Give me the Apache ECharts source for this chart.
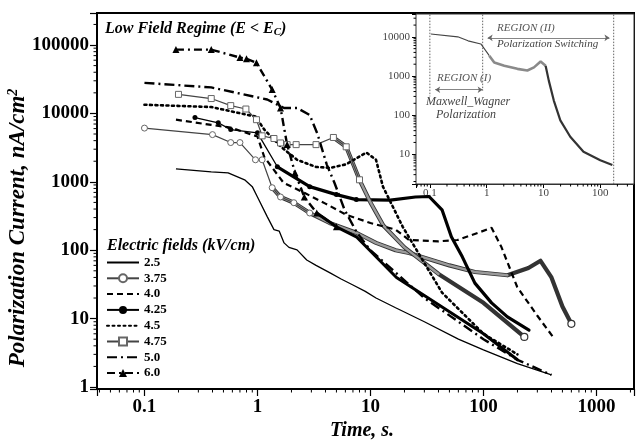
<!DOCTYPE html>
<html><head><meta charset="utf-8">
<script src="https://cdn.jsdelivr.net/npm/echarts@6/dist/echarts.min.js"></script>
<style>html,body{margin:0;padding:0;background:#fff}#c{width:637px;height:445px}</style>
</head><body><div id="c"></div>
<script>
// ---- data (time in s, current in nA/cm^2) ----
const fieldNames = ['2.5','3.75','4.0','4.25','4.5','4.75','5.0','6.0'];

const t25 = [0.19,0.39,0.55,0.77,0.9,1.0,1.22,1.4,1.56,1.72,1.9,2.24,2.73,3.3,4.35,5.5,7.0,9,11.2,16.7,30,60,100,200,400];
const v25 = [1550,1400,1350,1070,850,600,310,200,190,128,110,101,72,60,47,38,31,25,20,14.4,9,5,3.5,2.2,1.5];

const t375 = [0.1,0.4,0.58,0.7,0.96,1.1,1.35,1.6,2.1,2.9,4.35,7.5,11.2,16.7,22,50,84,163,250,320,400,500,600];
const v375 = [6100,4900,3750,3750,2100,2100,820,600,495,350,250,180,128,100,91,60,48,43,55,70,40,15,8.4];

const t40 = [0.19,0.39,0.58,1.0,1.15,1.7,2.6,4,6.1,10,16.7,22,40,59,90,118,144,199,300,420];
const v40 = [8100,6800,6200,4600,2300,970,690,480,330,250,200,141,135,141,180,213,112,29,11,5.2];

const t425 = [0.28,0.45,0.58,1.0,1.5,2.9,5,7.5,15,25,33,43,52,65,84,118,163,253];
const v425 = [8700,7300,5800,5200,1660,850,650,550,540,600,610,390,157,80,33,17,10.6,6.8];

const t45 = [0.1,0.39,0.96,1.15,1.6,2.24,3.3,4.4,6.1,9.2,11.2,12.9,19.3,43,100,200];
const v45 = [13400,12400,9000,5800,3300,2100,1650,1600,1800,2680,2100,850,220,24,6,3];

const t475 = [0.2,0.39,0.58,0.79,0.98,1.1,1.4,1.6,1.83,2.2,3.3,4.7,6.1,8,10,13,20,40,100,230];
const v475 = [19000,16500,13000,11600,8100,4700,4300,3700,3500,3500,3500,4450,3250,1070,500,230,110,45,17,5.4];

const t50 = [0.1,0.39,1.22,1.72,2.24,2.9,3.4,4.1,4.8,5.9,7.6,10,30,100,200,400];
const v50 = [28000,24000,16000,12000,12000,9500,5000,1800,970,390,180,100,20,5,2.5,1.5];

const t60 = [0.19,0.39,0.7,0.8,0.98,1.35,1.6,1.83,2.15,2.6,3.35,5,7.5,17,100,200];
const v60 = [85700,85700,65500,63000,55000,22300,12000,3500,1360,600,350,220,157,40,6,2.5];

// inset curve
const tIn = [0.104,0.31,0.47,0.79,1.11,1.36,2.04,3.47,5.2,6.8,8.9,10.9,12.4,15.2,19.8,29.6,50.6,100,163];
const vIn = [11800,10000,7900,6600,3300,2200,1830,1520,1380,1660,2350,1830,760,235,73,28,11.5,7,5.3];

// inset region markers
const regionBounds = [0.1, 0.85, 172];

const zip = (a,b)=>a.map((x,i)=>[x,b[i]]);
const from = (a,b,i)=>zip(a,b).slice(i);
const last = (a,b)=>[[a[a.length-1], b[b.length-1]]];

const SERIF = 'Liberation Serif';
const MX=[10**-1.42, 2150], MY=[0.935, 294000];
const IX=[0.057, 392], IY=[1.73, 38400];

function decLabel(v){
  const l=Math.log10(v); const r=Math.round(l);
  if(Math.abs(l-r)>1e-6) return '';
  return r<0 ? String(Math.pow(10,r).toFixed(-r)) : String(Math.pow(10,r));
}
function minorVals(lo,hi){
  const out=[];
  for(let d=-3; d<=6; d++) for(let k=2;k<=9;k++){const v=k*Math.pow(10,d); if(v>lo*1.0001 && v<hi*0.9999) out.push(v);}
  return out;
}
function tickSeries(xi, yi, axis, vals, fixed, len){
  return {type:'custom', xAxisIndex:xi, yAxisIndex:yi, silent:true, clip:false, z:5,
    data: vals.map(v=> axis==='x'?[v,fixed]:[fixed,v]),
    renderItem:(p,api)=>{
      const c=api.coord([api.value(0),api.value(1)]);
      return axis==='x'
        ? {type:'line',shape:{x1:c[0],y1:c[1],x2:c[0],y2:c[1]+len},style:{stroke:'#000',lineWidth:1}}
        : {type:'line',shape:{x1:c[0],y1:c[1],x2:c[0]-len,y2:c[1]},style:{stroke:'#000',lineWidth:1}};
    }};
}

const chart = echarts.init(document.getElementById('c'), null, {renderer:'canvas'});

const base = {type:'line', xAxisIndex:0, yAxisIndex:0, smooth:false, z:3};
const band = (data, color, width, type) => ({...base, z:2, data, symbol:'none', silent:true,
  lineStyle:{color, width, type:type||'solid', join:'round', cap:'round'}});
const endMark = (data) => ({...base, z:4, data, symbol:'circle', symbolSize:7, silent:true, showSymbol:true,
  lineStyle:{width:0}, itemStyle:{color:'#fff', borderColor:'#333', borderWidth:1.2}});
const series = [
  {...base, name:'2.5', data:zip(t25,v25), symbol:'none', lineStyle:{color:'#000',width:1.3}, itemStyle:{color:'#000'}},
  // dense-marker tails drawn as thick bands
  band(from(t375,v375,6), '#333', 4.2),
  band(from(t375,v375,6).slice(0,12), '#9a9a9a', 2.4),
  band(from(t425,v425,4), '#000', 3.2),
  band(from(t475,v475,11), '#333', 4.2),
  band(from(t475,v475,11).slice(0,7), '#9a9a9a', 2.4),
  band(from(t60,v60,10), '#000', 3),
  endMark(last(t375,v375)),
  endMark(last(t475,v475)),
  {...base, name:'3.75', data:zip(t375,v375).slice(0,10), symbol:'circle', symbolSize:6, lineStyle:{color:'#444',width:1.2}, itemStyle:{color:'#fff',borderColor:'#666',borderWidth:1}},
  {...base, name:'4.0', data:zip(t40,v40), symbol:'none', lineStyle:{color:'#000',width:2.2,type:[6,4]}, itemStyle:{color:'#000'}},
  {...base, name:'4.25', data:zip(t425,v425).slice(0,8), symbol:'circle', symbolSize:5, lineStyle:{color:'#000',width:1.3}, itemStyle:{color:'#000'}},
  {...base, name:'4.5', data:zip(t45,v45), symbol:'none', lineStyle:{color:'#000',width:2.6,type:[2,3.5],cap:'round'}, itemStyle:{color:'#000'}},
  {...base, name:'4.75', data:zip(t475,v475).slice(0,14), symbol:'rect', symbolSize:6, lineStyle:{color:'#444',width:1.2}, itemStyle:{color:'#fff',borderColor:'#666',borderWidth:1}},
  {...base, name:'5.0', data:zip(t50,v50), symbol:'none', lineStyle:{color:'#000',width:2.4,type:[10,4,2,4]}, itemStyle:{color:'#000'}},
  {...base, name:'6.0', data:zip(t60,v60).slice(0,12), symbol:'triangle', symbolSize:7, lineStyle:{color:'#000',width:2.4,type:[8,4,2,4]}, itemStyle:{color:'#000'}},
  // inset curve
  {type:'line', xAxisIndex:1, yAxisIndex:1, data:zip(tIn,vIn).slice(0,5), symbol:'none', z:12, silent:true,
   lineStyle:{color:'#444',width:1.1}},
  {type:'line', xAxisIndex:1, yAxisIndex:1, data:zip(tIn,vIn).slice(4,12), symbol:'none', z:12, silent:true,
   lineStyle:{color:'#8a8a8a',width:2.6}},
  {type:'line', xAxisIndex:1, yAxisIndex:1, name:'inset', data:zip(tIn,vIn).slice(11), symbol:'none', z:12,
   lineStyle:{color:'#333',width:2.2}, silent:true,
   markLine:{silent:true, symbol:['arrow','arrow'], symbolSize:5, label:{show:false},
     lineStyle:{color:'#666',width:0.8,type:'solid'},
     data:[[{coord:[0.124,445]},{coord:[0.85,445]}],[{coord:[1.04,9450]},{coord:[145,9450]}]]}},
  // region boundaries
  {type:'line', xAxisIndex:1, yAxisIndex:1, data:[[regionBounds[0],37000],[regionBounds[0],300]], symbol:'none', z:11, silent:true, lineStyle:{color:'#555',width:0.9,type:[1.5,1.5]}},
  {type:'line', xAxisIndex:1, yAxisIndex:1, data:[[regionBounds[1],37000],[regionBounds[1],420]], symbol:'none', z:11, silent:true, lineStyle:{color:'#555',width:0.9,type:[1.5,1.5]}},
  {type:'line', xAxisIndex:1, yAxisIndex:1, data:[[regionBounds[2],37000],[regionBounds[2],1.75]], symbol:'none', z:11, silent:true, lineStyle:{color:'#555',width:0.9,type:[1.5,1.5]}},
  tickSeries(0,0,'x',minorVals(MX[0],MX[1]),MY[0],3.5),
  tickSeries(0,0,'y',minorVals(MY[0],MY[1]),MX[0],3.5),
  tickSeries(1,1,'x',minorVals(IX[0],IX[1]),IY[0],2.5),
  tickSeries(1,1,'y',minorVals(IY[0],IY[1]),IX[0],2.5),
];

const axisCommon = {type:'log', logBase:10, splitLine:{show:false}, minorTick:{show:false}};
const noSym = ['2.5','4.0','4.5','5.0'];

chart.setOption({
  animation:false,
  backgroundColor:'#fff',
  grid:[
    {left:97, top:13, width:543, height:376, show:true, borderColor:'#000', borderWidth:2, backgroundColor:'transparent'},
    {left:416, top:14, width:220, height:170, show:true, borderColor:'#333', borderWidth:1, backgroundColor:'#fff', z:1}
  ],
  xAxis:[
    {...axisCommon, gridIndex:0, min:MX[0], max:MX[1],
     axisLine:{lineStyle:{color:'#000',width:2}}, axisTick:{inside:false,length:7,lineStyle:{color:'#000',width:1.2}},
     axisLabel:{formatter:decLabel, margin:9, color:'#000', fontFamily:SERIF, fontWeight:'bold', fontSize:19}},
    {...axisCommon, gridIndex:1, min:IX[0], max:IX[1],
     axisLine:{lineStyle:{color:'#333',width:1}}, axisTick:{inside:false,length:4,lineStyle:{color:'#000',width:1}},
     axisLabel:{formatter:decLabel, margin:4, color:'#444', fontFamily:SERIF, fontSize:11}}
  ],
  yAxis:[
    {...axisCommon, gridIndex:0, min:MY[0], max:MY[1],
     axisLine:{lineStyle:{color:'#000',width:2}}, axisTick:{inside:false,length:7,lineStyle:{color:'#000',width:1.2}},
     axisLabel:{formatter:decLabel, margin:8, color:'#000', fontFamily:SERIF, fontWeight:'bold', fontSize:19}},
    {...axisCommon, gridIndex:1, min:IY[0], max:IY[1],
     axisLine:{lineStyle:{color:'#333',width:1}}, axisTick:{inside:false,length:4,lineStyle:{color:'#000',width:1}},
     axisLabel:{formatter:decLabel, margin:6, color:'#444', fontFamily:SERIF, fontSize:11}}
  ],
  legend:{
    data:fieldNames.map(n=> noSym.includes(n) ? {name:n, itemStyle:{opacity:0}} : {name:n}),
    orient:'vertical', left:106, top:256, itemWidth:32, itemHeight:10, itemGap:2.8,
    padding:0, selectedMode:false,
    textStyle:{fontFamily:SERIF, fontWeight:'bold', fontSize:13, color:'#000'}
  },
  graphic:[
    {type:'text', left:105, top:21, style:{rich:{b:{fontFamily:SERIF,fontStyle:'italic',fontWeight:'bold',fontSize:16,fill:'#000'}, s:{fontFamily:SERIF,fontStyle:'italic',fontWeight:'bold',fontSize:11,fill:'#000',verticalAlign:'bottom',padding:[6,0,0,0]}},
      text:'{b|Low Field Regime (E < E}{s|C}{b|)}'}},
    {type:'text', left:107, top:238, style:{text:'Electric fields (kV/cm)', fontFamily:SERIF,fontStyle:'italic',fontWeight:'bold',fontSize:16,fill:'#000'}},
    {type:'text', x:362, y:431, style:{text:'Time, s.', fontFamily:SERIF,fontStyle:'italic',fontWeight:'bold',fontSize:20,fill:'#000',align:'center',verticalAlign:'middle'}},
    {type:'text', x:18, y:228, rotation:Math.PI/2, style:{align:'center',verticalAlign:'middle',
      rich:{b:{fontFamily:SERIF,fontStyle:'italic',fontWeight:'bold',fontSize:23,fill:'#000'}, s:{fontFamily:SERIF,fontStyle:'italic',fontWeight:'bold',fontSize:14,fill:'#000',verticalAlign:'top',padding:[0,0,9,0]}},
      text:'{b|Polarization Current, nA/cm}{s|2}'}},
    {type:'text', left:497, top:23, z:20, style:{text:'REGION (II)', fontFamily:SERIF,fontStyle:'italic',fontSize:11,fill:'#555'}},
    {type:'text', left:497, top:39, z:20, style:{text:'Polarization Switching', fontFamily:SERIF,fontStyle:'italic',fontSize:11,fill:'#444'}},
    {type:'text', left:437, top:73, z:20, style:{text:'REGION (I)', fontFamily:SERIF,fontStyle:'italic',fontSize:11,fill:'#555'}},
    {type:'text', left:426, top:96, z:20, style:{text:'Maxwell_Wagner', fontFamily:SERIF,fontStyle:'italic',fontSize:12,fill:'#444'}},
    {type:'text', left:436, top:109, z:20, style:{text:'Polarization', fontFamily:SERIF,fontStyle:'italic',fontSize:12,fill:'#444'}}
  ],
  series
});
</script></body></html>
